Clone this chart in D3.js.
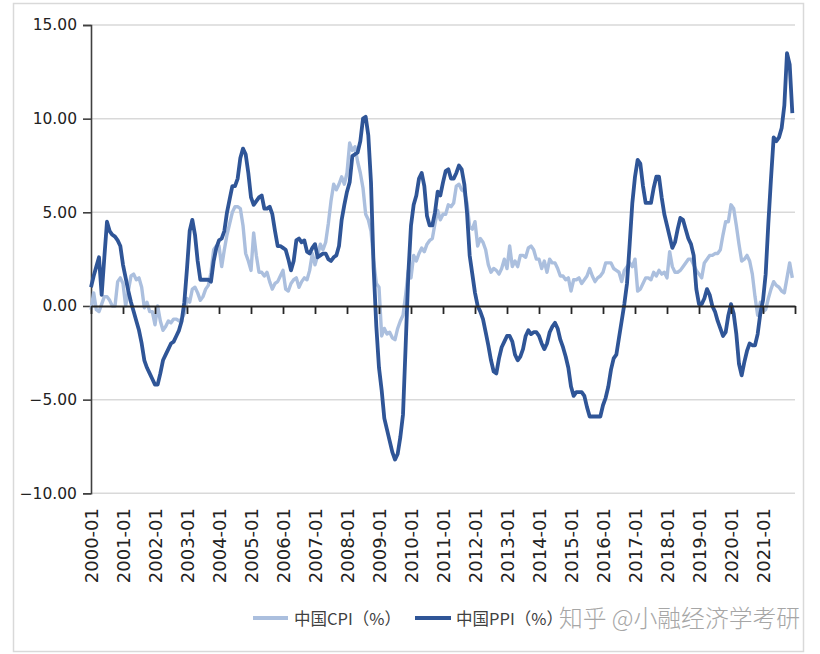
<!DOCTYPE html>
<html>
<head>
<meta charset="utf-8">
<script src="https://cdn.jsdelivr.net/npm/d3@7/dist/d3.min.js"></script>
<style>
  html, body { margin: 0; padding: 0; background: #ffffff; }
  svg { display: block; }
</style>
</head>
<body>
<svg id="chart" width="820" height="654"></svg>
<script>
// ---------- DATA ----------
const years = d3.range(2000, 2022);
const months = [];
years.forEach(yr => { for (let m = 1; m <= 12; m++) months.push(yr + "-" + String(m).padStart(2, "0")); });

const yearLabels = years.map(yr => yr + "-01");

const cpi = [
  -0.2, 0.7, -0.2, -0.3, 0.1, 0.5, 0.5, 0.3, 0.0, 0.0, 1.3, 1.5,
  1.2, 0.0, 0.8, 1.6, 1.7, 1.4, 1.5, 1.0, -0.1, 0.2, -0.3, -0.3,
  -1.0, 0.0, -0.8, -1.3, -1.1, -0.8, -0.9, -0.7, -0.7, -0.8, -0.7, -0.4,
  0.4, 0.2, 0.9, 1.0, 0.7, 0.3, 0.5, 0.9, 1.1, 1.8, 3.0, 3.2,
  3.2, 2.1, 3.0, 3.8, 4.4, 5.0, 5.3, 5.3, 5.2, 4.3, 2.8, 2.4,
  1.9, 3.9, 2.7, 1.8, 1.8, 1.6, 1.8, 1.3, 0.9, 1.2, 1.3, 1.6,
  1.9, 0.9, 0.8, 1.2, 1.4, 1.5, 1.0, 1.3, 1.5, 1.4, 1.9, 2.8,
  2.2, 2.7, 3.3, 3.0, 3.4, 4.4, 5.6, 6.5, 6.2, 6.5, 6.9, 6.5,
  7.1, 8.7, 8.3, 8.5, 7.7, 7.1, 6.3, 4.9, 4.6, 4.0, 2.4, 1.2,
  1.0, -1.6, -1.2, -1.5, -1.4, -1.7, -1.8, -1.2, -0.8, -0.5, 0.6, 1.9,
  1.5, 2.7, 2.4, 2.8, 3.1, 2.9, 3.3, 3.5, 3.6, 4.4, 5.1, 4.6,
  4.9, 4.9, 5.4, 5.3, 5.5, 6.4, 6.5, 6.2, 6.1, 5.5, 4.2, 4.1,
  4.5, 3.2, 3.6, 3.4, 3.0, 2.2, 1.8, 2.0, 1.9, 1.7, 2.0, 2.5,
  2.0, 3.2, 2.1, 2.4, 2.1, 2.7, 2.7, 2.6, 3.1, 3.2, 3.0, 2.5,
  2.5, 2.0, 2.4, 1.8, 2.5, 2.3, 2.3, 2.0, 1.6, 1.6, 1.4, 1.5,
  0.8, 1.4, 1.4, 1.5, 1.2, 1.4, 1.6, 2.0, 1.6, 1.3, 1.5, 1.6,
  1.8, 2.3, 2.3, 2.3, 2.0, 1.9, 1.8, 1.3, 1.9, 2.1, 2.3, 2.1,
  2.5, 0.8, 0.9, 1.2, 1.5, 1.5, 1.4, 1.8, 1.6, 1.9, 1.7, 1.8,
  1.5, 2.9, 2.1, 1.8, 1.8, 1.9, 2.1, 2.3, 2.5, 2.5, 2.2, 1.9,
  1.7, 1.5, 2.3, 2.5, 2.7, 2.7, 2.8, 2.8, 3.0, 3.8, 4.5, 4.5,
  5.4, 5.2, 4.3, 3.3, 2.4, 2.5, 2.7, 2.4, 1.7, 0.5, -0.5, 0.2,
  -0.3, -0.2, 0.4, 0.9, 1.3, 1.1, 1.0, 0.8, 0.7, 1.5, 2.3, 1.5
];

const ppi = [
  1.0, 1.6, 2.1, 2.6, 0.6, 2.6, 4.5, 4.0, 3.8, 3.7, 3.5, 3.2,
  2.2, 1.5, 0.8, 0.2, -0.3, -0.8, -1.3, -2.0, -2.9, -3.3, -3.6, -3.9,
  -4.2, -4.2, -3.6, -2.9, -2.6, -2.3, -2.0, -1.9, -1.6, -1.3, -0.8, 0.2,
  2.0, 4.0, 4.6, 3.8, 2.4, 1.4, 1.4, 1.4, 1.4, 1.3, 2.4, 3.1,
  3.5, 3.6, 4.0, 5.0, 5.7, 6.4, 6.4, 6.8, 7.9, 8.4, 8.1, 7.1,
  5.8, 5.4, 5.6, 5.8, 5.9, 5.2, 5.2, 5.3, 4.9, 4.0, 3.2, 3.2,
  3.1, 3.0, 2.5, 1.9, 2.4, 3.5, 3.6, 3.4, 3.5, 2.9, 2.8, 3.1,
  3.3, 2.6, 2.7, 2.8, 2.8, 2.5, 2.4, 2.6, 2.7, 3.2, 4.6, 5.4,
  6.1, 6.6, 8.0, 8.1, 8.2, 8.8, 10.0, 10.1, 9.1, 6.6, 2.0, -1.1,
  -3.3, -4.5, -6.0, -6.6, -7.2, -7.8, -8.2, -7.9, -7.0, -5.8, -2.1, 1.7,
  4.3, 5.4, 5.9, 6.8, 7.1, 6.4, 4.8, 4.3, 4.3, 5.0, 6.1, 5.9,
  6.6, 7.2, 7.3, 6.8, 6.8, 7.1, 7.5, 7.3, 6.5, 5.0, 2.7, 1.7,
  0.7, 0.0, -0.3, -0.7, -1.4, -2.1, -2.9, -3.5, -3.6, -2.8, -2.2, -1.9,
  -1.6, -1.6, -1.9, -2.6, -2.9, -2.7, -2.3, -1.6, -1.3, -1.5, -1.4, -1.4,
  -1.6, -2.0, -2.3, -2.0, -1.4, -1.1, -0.9, -1.2, -1.8, -2.2, -2.7, -3.3,
  -4.3, -4.8, -4.6, -4.6, -4.6, -4.8, -5.4, -5.9, -5.9, -5.9, -5.9, -5.9,
  -5.3, -4.9, -4.3, -3.4, -2.8, -2.6, -1.7, -0.8, 0.1, 1.2, 3.3, 5.5,
  6.9, 7.8, 7.6, 6.4, 5.5, 5.5, 5.5, 6.3, 6.9, 6.9, 5.8, 4.9,
  4.3, 3.7, 3.1, 3.4, 4.1, 4.7, 4.6, 4.1, 3.6, 3.3, 2.7, 0.9,
  0.1, 0.1, 0.4, 0.9, 0.6, 0.0, -0.3, -0.8, -1.2, -1.6, -1.4, -0.5,
  0.1, -0.4, -1.5, -3.1, -3.7, -3.0, -2.4, -2.0, -2.1, -2.1, -1.5, -0.4,
  0.3, 1.7, 4.4, 6.8, 9.0, 8.8, 9.0, 9.5, 10.7, 13.5, 12.9, 10.3
];

const yTicks = [-10, -5, 0, 5, 10, 15];
const seriesNames = ["中国CPI（%）", "中国PPI（%）"];
const watermark = "知乎 @小融经济学考研";

// ---------- LAYOUT ----------
const svg = d3.select("#chart");
const plotLeft = 91, plotRight = 795, plotTop = 25, plotBottom = 493.3;

const x = d3.scaleLinear().domain([0, months.length]).range([plotLeft, plotRight]);
const y = d3.scaleLinear().domain([-10, 15]).range([plotBottom, plotTop]);

const cpiColor = "#abbfde";
const ppiColor = "#2f5597";

// outer frame
svg.append("rect")
  .attr("x", 13.5).attr("y", 3.5).attr("width", 790).attr("height", 648)
  .attr("fill", "#ffffff").attr("stroke", "#d9d9d9").attr("stroke-width", 1.5);

// gridlines
svg.append("g").selectAll("line")
  .data(yTicks.filter(d => d !== 0))
  .join("line")
  .attr("x1", plotLeft).attr("x2", plotRight)
  .attr("y1", d => y(d)).attr("y2", d => y(d))
  .attr("stroke", "#d9d9d9").attr("stroke-width", 1.5);

// y axis
const yAxis = svg.append("g")
  .attr("transform", `translate(${plotLeft},0)`)
  .call(d3.axisLeft(y).tickValues(yTicks).tickFormat(d3.format(".2f")).tickSize(8).tickPadding(6));
yAxis.select(".domain").attr("stroke", "#404040").attr("stroke-width", 1.6);
yAxis.selectAll(".tick line").attr("stroke", "#404040").attr("stroke-width", 1.6);
yAxis.selectAll("text")
  .attr("font-family", "DejaVu Sans, sans-serif")
  .attr("font-size", 15.5).attr("fill", "#222");

// lines
const line = d3.line().x((d, i) => x(i)).y(d => y(d));

svg.append("path")
  .datum(cpi)
  .attr("d", line)
  .attr("fill", "none").attr("stroke", cpiColor)
  .attr("stroke-width", 3.4).attr("stroke-linejoin", "round");

svg.append("path")
  .datum(ppi)
  .attr("d", line)
  .attr("fill", "none").attr("stroke", ppiColor)
  .attr("stroke-width", 3.8).attr("stroke-linejoin", "round");

// x axis at zero
const tickIdx = d3.range(0, months.length + 1, 12);
const xAxis = svg.append("g")
  .attr("transform", `translate(0,${y(0)})`)
  .call(d3.axisBottom(x).tickValues(tickIdx).tickFormat("").tickSize(8).tickSizeOuter(0));
xAxis.select(".domain").attr("stroke", "#262626").attr("stroke-width", 2);
xAxis.selectAll(".tick line").attr("stroke", "#262626").attr("stroke-width", 1.8);

// x labels at bottom
svg.append("g").selectAll("text")
  .data(yearLabels)
  .join("text")
  .attr("transform", (d, i) => `translate(${x(i * 12) + 6.5},508) rotate(-90)`)
  .attr("text-anchor", "end")
  .attr("font-family", "DejaVu Sans, sans-serif")
  .attr("font-size", 18).attr("fill", "#222")
  .text(d => d);

// legend
const legend = [
  { name: seriesNames[0], color: cpiColor, x1: 253, x2: 288, tx: 294 },
  { name: seriesNames[1], color: ppiColor, x1: 415, x2: 451, tx: 456 }
];
const lg = svg.append("g");
legend.forEach(l => {
  lg.append("line").attr("x1", l.x1).attr("x2", l.x2).attr("y1", 618).attr("y2", 618)
    .attr("stroke", l.color).attr("stroke-width", 3.8);
  lg.append("text").attr("x", l.tx).attr("y", 624.5)
    .attr("font-family", "Noto Sans CJK SC, sans-serif")
    .attr("font-size", 16.5).attr("fill", "#404040")
    .text(l.name);
});

// watermark
svg.append("text")
  .attr("x", 559).attr("y", 627)
  .attr("font-family", "Noto Sans CJK SC, sans-serif")
  .attr("font-size", 23.8).attr("font-weight", 300)
  .attr("fill", "#a6a6a6")
  .attr("stroke", "#ffffff").attr("stroke-width", 4).attr("paint-order", "stroke")
  .text(watermark);
</script>
</body>
</html>
